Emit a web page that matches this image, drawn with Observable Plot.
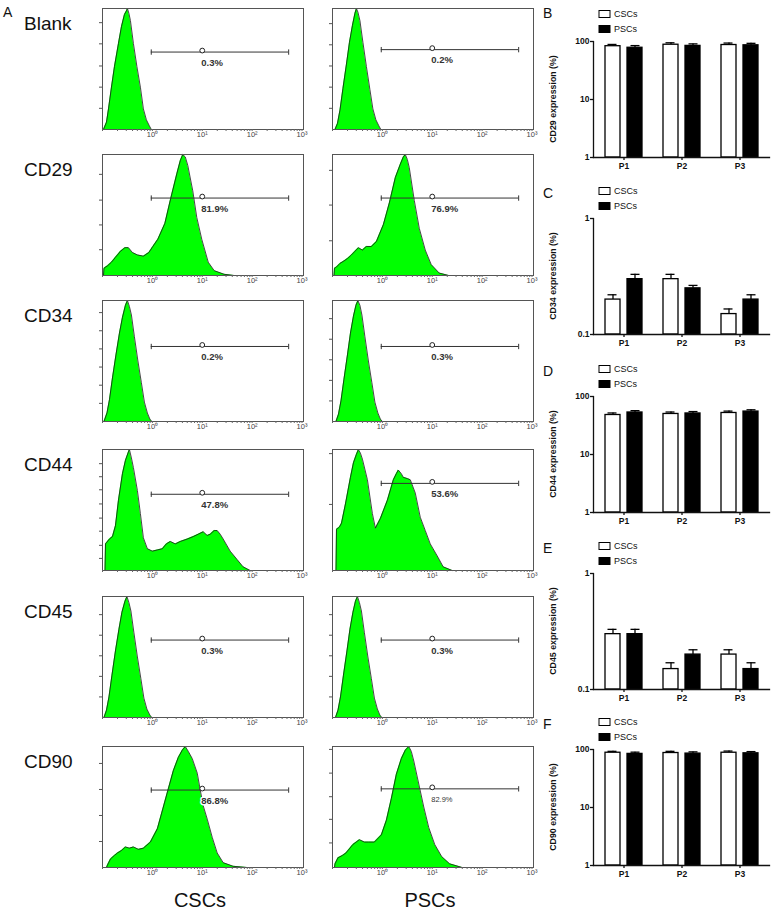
<!DOCTYPE html>
<html><head><meta charset="utf-8">
<script src="https://cdn.jsdelivr.net/npm/d3@7"></script>
<script src="https://cdn.jsdelivr.net/npm/@observablehq/plot@0.6"></script>
<style>
body{margin:0;background:#fff;}
#page{position:relative;width:776px;height:912px;overflow:hidden;background:#fff;font-family:"Liberation Sans",Arial,sans-serif;}
#page > svg{position:absolute;margin:0;}
</style></head><body><div id="page"></div>
<script>
// ---------- data: flow cytometry histograms (log10 fluorescence, % of frame height) ----------
const markers = ["Blank","CD29","CD34","CD44","CD45","CD90"];
const groups = ["CSCs","PSCs"];
const percentLabels = [["0.3%","0.2%"],["81.9%","76.9%"],["0.2%","0.3%"],["47.8%","53.6%"],["0.3%","0.3%"],["86.8%","82.9%"]];
const gateHeights = [[64,66],[64,64],[62,62],[63,72],[64,64],[64,65]];
const gateRange = [0.95, 540];
const gateMarker = 10;
const decadeTicks = [1,10,100,1000];
const decadeLabels = ["10⁰","10¹","10²","10³"];

const blankCSC = [[-0.98,0],[-0.92,6],[-0.88,17],[-0.82,35],[-0.76,52],[-0.68,71],[-0.62,85],[-0.56,95],[-0.52,98],[-0.50,100],[-0.47,96],[-0.44,90],[-0.38,71],[-0.31,52],[-0.24,35],[-0.18,17],[-0.12,8],[-0.06,3],[-0.02,0]];
const blankPSC = [[-0.95,0],[-0.90,5],[-0.85,16],[-0.79,34],[-0.72,54],[-0.66,72],[-0.60,86],[-0.55,96],[-0.52,100],[-0.49,97],[-0.45,90],[-0.39,72],[-0.32,52],[-0.25,33],[-0.19,17],[-0.13,8],[-0.07,3],[-0.03,0]];
const cd29CSC = [[-0.98,0],[-0.97,6],[-0.9,8],[-0.82,11],[-0.74,15],[-0.64,20],[-0.55,23],[-0.48,23],[-0.40,19],[-0.30,17],[-0.18,16],[-0.07,19],[0.01,24],[0.11,30],[0.25,43],[0.37,64],[0.49,84],[0.56,95],[0.61,100],[0.66,98],[0.71,91],[0.81,70],[0.89,48],[0.99,30],[1.12,11],[1.24,4],[1.44,1],[1.64,0]];
const cd29PSC = [[-0.97,0],[-0.96,6],[-0.92,7],[-0.85,10],[-0.77,12],[-0.70,14],[-0.62,17],[-0.55,20],[-0.48,23],[-0.40,21],[-0.32,24],[-0.22,24],[-0.12,28],[0.02,42],[0.14,60],[0.26,81],[0.36,92],[0.42,98],[0.46,100],[0.50,96],[0.54,89],[0.64,62],[0.74,39],[0.86,21],[0.98,9],[1.14,2],[1.33,0]];
const cd34CSC = [[-0.97,0],[-0.91,7],[-0.86,18],[-0.80,36],[-0.73,55],[-0.66,73],[-0.60,86],[-0.54,96],[-0.50,100],[-0.46,95],[-0.42,88],[-0.36,70],[-0.29,50],[-0.22,32],[-0.16,16],[-0.10,7],[-0.05,2],[-0.01,0]];
const cd34PSC = [[-0.93,0],[-0.88,6],[-0.83,17],[-0.77,35],[-0.70,55],[-0.64,73],[-0.58,87],[-0.53,96],[-0.49,100],[-0.45,96],[-0.41,88],[-0.35,70],[-0.28,50],[-0.21,32],[-0.15,16],[-0.09,7],[-0.04,2],[0.0,0]];
const cd44CSC = [[-0.95,0],[-0.94,22],[-0.86,26],[-0.80,28],[-0.74,37],[-0.68,58],[-0.60,80],[-0.54,91],[-0.48,98],[-0.46,100],[-0.42,93],[-0.38,85],[-0.30,66],[-0.24,47],[-0.18,27],[-0.10,18],[0,16],[0.10,17],[0.20,18],[0.28,22],[0.36,24],[0.46,22],[0.56,24],[0.70,26],[0.82,28],[0.92,30],[1.02,32],[1.10,29],[1.16,30],[1.24,33],[1.30,33],[1.36,30],[1.42,26],[1.56,16],[1.70,9],[1.82,3],[1.96,0]];
const cd44PSC = [[-0.93,0],[-0.92,34],[-0.86,36],[-0.82,39],[-0.74,55],[-0.64,77],[-0.58,89],[-0.52,96],[-0.48,100],[-0.44,97],[-0.40,92],[-0.30,75],[-0.20,47],[-0.14,35],[-0.04,43],[0.10,58],[0.22,75],[0.28,80],[0.32,83],[0.38,80],[0.42,77],[0.50,76],[0.56,75],[0.66,64],[0.76,44],[0.86,33],[0.96,22],[1.10,12],[1.22,3],[1.40,0]];
const cd45CSC = [[-0.97,0],[-0.92,6],[-0.87,17],[-0.81,35],[-0.74,55],[-0.67,73],[-0.61,87],[-0.55,96],[-0.51,100],[-0.47,95],[-0.43,88],[-0.37,70],[-0.30,50],[-0.23,32],[-0.17,16],[-0.11,7],[-0.05,2],[-0.01,0]];
const cd45PSC = [[-0.94,0],[-0.89,6],[-0.84,17],[-0.78,35],[-0.71,55],[-0.65,73],[-0.59,87],[-0.54,96],[-0.50,100],[-0.46,95],[-0.42,88],[-0.36,70],[-0.29,50],[-0.22,32],[-0.16,16],[-0.10,7],[-0.05,2],[-0.01,0]];
const cd90CSC = [[-0.92,0],[-0.90,2],[-0.84,7],[-0.76,10],[-0.70,12],[-0.62,14],[-0.54,17],[-0.46,16],[-0.38,17],[-0.28,15],[-0.18,16],[-0.04,21],[0.10,32],[0.22,50],[0.32,65],[0.42,80],[0.52,91],[0.60,97],[0.66,100],[0.72,96],[0.80,90],[0.90,78],[0.96,64],[1.02,51],[1.10,40],[1.20,25],[1.30,12],[1.42,4],[1.62,1],[1.90,0]];
const cd90PSC = [[-0.96,0],[-0.95,3],[-0.89,8],[-0.80,10],[-0.73,12],[-0.59,19],[-0.46,23],[-0.36,21],[-0.28,21],[-0.16,21],[-0.02,27],[0.08,39],[0.18,57],[0.28,77],[0.38,90],[0.46,97],[0.53,100],[0.58,96],[0.63,88],[0.73,69],[0.83,50],[0.93,33],[1.05,19],[1.19,9],[1.35,3],[1.60,0]];
const histCurves = [[blankCSC,blankPSC],[cd29CSC,cd29PSC],[cd34CSC,cd34PSC],[cd44CSC,cd44PSC],[cd45CSC,cd45PSC],[cd90CSC,cd90PSC]];
const histYTicks = [
  [[17.5,35,52.5,70.8,88.3],[17.5,35,52.5,70,87.5]],
  [[21.3,41.8,62.3,83.6],[28.7,58.2,86.9]],
  [[15,30,45,60,75,90],[17,34,51,68,85]],
  [[10,20.8,32.5,43.3,55,66.7,77.5,88.3],[54.6,96.6]],
  [[17,34,51,68,85],[17,34,51,68,85]],
  [[21.5,43,64.5,86],[20.3,39.8,58.5,78,97.6]]
];

// ---------- data: bar charts ----------
const passages = ["P1","P2","P3"];
const barMarkers = ["CD29","CD34","CD44","CD45","CD90"];
const panelLetters = ["B","C","D","E","F"];
const barDomains = [[1,100],[0.1,1],[1,100],[0.1,1],[1,100]];
const barTicks = [[1,10,100],[0.1,1],[1,10,100],[0.1,1],[1,10,100]];
const cscMeans  = [[83,88,87],[0.20,0.30,0.15],[48,50,52],[0.30,0.15,0.20],[88,87,88]];
const cscErrors = [[6,7,7],[0.02,0.03,0.016],[4,4,4],[0.03,0.02,0.02],[5,6,6]];
const pscMeans  = [[78,84,86],[0.30,0.25,0.20],[53,51,55],[0.30,0.20,0.15],[84,85,86]];
const pscErrors = [[7,7,7],[0.03,0.015,0.02],[4,4,4],[0.03,0.02,0.02],[6,6,6]];

// ---------- layout ----------
const FONT = '"Liberation Sans", Arial, sans-serif';
const histFrameLeft = [102, 332];
const histFrameTop = [8,154,300,449,596,746];
const barAxisTop = [41,218,396,573,749];
const page = document.getElementById("page");

function place(svg, left, top) {
  svg.style.left = left + "px";
  svg.style.top = top + "px";
  page.appendChild(svg);
}

function histogram(row, col) {
  const pts = histCurves[row][col].map(([lx, h]) => ({x: Math.pow(10, lx), y: h}));
  const gy = gateHeights[row][col];
  const small = row === 5 && col === 1;
  const ml = 12, mt = 2;
  const svg = Plot.plot({
    width: 220, height: 138, marginLeft: ml, marginRight: 7, marginTop: mt, marginBottom: 15,
    style: {fontFamily: FONT, overflow: "visible", background: "transparent"},
    x: {type: "log", domain: [Math.pow(10, -1.0), Math.pow(10, 3.03)]},
    y: {domain: [0, 100]},
    marks: [
      Plot.areaY(pts, {x: "x", y: "y", fill: "#00ff00"}),
      Plot.lineY(pts, {x: "x", y: "y", stroke: "#1a1a1a", strokeWidth: 0.8}),
      Plot.frame({stroke: "#555", strokeWidth: 1}),
      Plot.axisX({ticks: 40, tickSize: 2, tickPadding: 0, fontSize: 7.5, fill: "#444", stroke: "#666", label: null,
        tickFormat: d => { const i = decadeTicks.findIndex(t => Math.abs(t - d) < 1e-9 * t); return i >= 0 ? decadeLabels[i] : ""; }}),
      Plot.axisY({ticks: histYTicks[row][col], tickSize: 3, stroke: "#555", tickFormat: () => "", label: null}),
      Plot.ruleY([gy], {x1: gateRange[0], x2: gateRange[1], stroke: "#333", strokeWidth: 1}),
      Plot.link(gateRange, {x1: d => d, x2: d => d, y1: gy - 2.2, y2: gy + 2.2, stroke: "#333", strokeWidth: 1}),
      Plot.text([percentLabels[row][col]], {x: gateMarker, y: gy, text: d => d, dy: 10.5, dx: -1, textAnchor: "start",
        fontSize: small ? 7.5 : 9.5, fontWeight: small ? "normal" : "bold", fill: "#333",
        stroke: "white", strokeWidth: 3, paintOrder: "stroke"}),
      Plot.dot([gateMarker], {x: d => d, y: gy, r: 2.4, fill: "white", stroke: "#222", strokeWidth: 1, dy: -1.5})
    ]
  });
  place(svg, histFrameLeft[col] - ml, histFrameTop[row] - mt);
}

function barChart(i) {
  const csc = passages.map((p, j) => ({p, v: cscMeans[i][j], e: cscErrors[i][j]}));
  const psc = passages.map((p, j) => ({p, v: pscMeans[i][j], e: pscErrors[i][j]}));
  const y0 = barDomains[i][0];
  const mt = 6;
  const svg = Plot.plot({
    width: 236, height: 138, marginLeft: 53, marginRight: 7, marginTop: mt, marginBottom: 16,
    style: {fontFamily: FONT, overflow: "visible", background: "transparent", color: "#111"},
    x: {domain: passages, paddingInner: 0.37, paddingOuter: 0.19},
    y: {type: "log", domain: barDomains[i]},
    marks: [
      Plot.ruleX(csc, {x: "p", y1: "v", y2: d => d.v + d.e, dx: -11, stroke: "black", strokeWidth: 1.3}),
      Plot.tickY(csc, {x: "p", y: d => d.v + d.e, insetLeft: 2.5, insetRight: 25.5, stroke: "black", strokeWidth: 1.3}),
      Plot.ruleX(psc, {x: "p", y1: "v", y2: d => d.v + d.e, dx: 11, stroke: "black", strokeWidth: 1.3}),
      Plot.tickY(psc, {x: "p", y: d => d.v + d.e, insetLeft: 25.5, insetRight: 2.5, stroke: "black", strokeWidth: 1.3}),
      Plot.barY(csc, {x: "p", y1: y0, y2: "v", insetRight: 22, fill: "white", stroke: "black", strokeWidth: 1.3}),
      Plot.barY(psc, {x: "p", y1: y0, y2: "v", insetLeft: 22, fill: "black", stroke: "black", strokeWidth: 1.3}),
      Plot.frame({anchor: "left", stroke: "#111", strokeWidth: 1.3}),
      Plot.frame({anchor: "bottom", stroke: "#111", strokeWidth: 1.3}),
      Plot.axisY({ticks: barTicks[i], tickFormat: d => String(d), tickSize: 3, tickPadding: 1, fontSize: 8.5, fontWeight: "bold", label: null, strokeWidth: 1.3}),
      Plot.axisX({tickSize: 3, tickPadding: 2, fontSize: 8.5, fontWeight: "bold", label: null, strokeWidth: 1.3})
    ]
  });
  place(svg, 540, barAxisTop[i] - mt);
}

for (let r = 0; r < markers.length; r++) for (let c = 0; c < groups.length; c++) histogram(r, c);
for (let i = 0; i < barMarkers.length; i++) barChart(i);

// ---------- labels overlay ----------
const ov = d3.create("svg").attr("width", 776).attr("height", 912)
  .style("left", "0px").style("top", "0px").style("pointer-events", "none")
  .style("font-family", FONT).style("fill", "#111");
ov.append("text").attr("x", 3).attr("y", 17).attr("font-size", 14).text("A");
markers.forEach((m, r) => ov.append("text").attr("x", 24).attr("y", histFrameTop[r] + 21.5).attr("font-size", 19).text(m));
groups.forEach((g, c) => ov.append("text").attr("x", histFrameLeft[c] + 98).attr("y", 907).attr("font-size", 20).attr("text-anchor", "middle").text(g));
barMarkers.forEach((m, i) => {
  const t = barAxisTop[i];
  ov.append("text").attr("x", 543).attr("y", t - (i === 0 ? 23 : 20)).attr("font-size", 14).text(panelLetters[i]);
  groups.forEach((g, k) => {
    ov.append("rect").attr("x", 599).attr("y", t - 30.5 + 15 * k).attr("width", 11).attr("height", 7)
      .attr("fill", k === 0 ? "white" : "black").attr("stroke", "black").attr("stroke-width", 1);
    ov.append("text").attr("x", 614).attr("y", t - 23.8 + 15 * k).attr("font-size", 9).text(g);
  });
  ov.append("text").attr("transform", `translate(556,${t + 58}) rotate(-90)`).attr("text-anchor", "middle")
    .attr("font-size", 8.8).attr("font-weight", "bold").text(`${m} expression (%)`);
});
page.appendChild(ov.node());
</script></body></html>
